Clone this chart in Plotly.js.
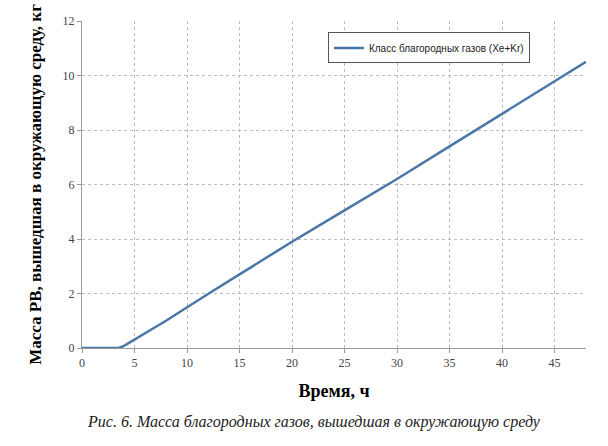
<!DOCTYPE html>
<html><head><meta charset="utf-8">
<script src="https://cdn.plot.ly/plotly-3.0.1.min.js"></script>
<style>html,body{margin:0;padding:0;background:#fff}#c{width:608px;height:446px}</style>
</head><body><div id="c"></div>
<script>
const timeH = [0, 1, 2, 3, 3.5, 4, 5, 6, 7, 8, 9, 10, 12, 15, 20, 25, 30, 35, 40, 45, 48];
const massKg = [0, 0, 0, 0, 0, 0.08, 0.3, 0.53, 0.77, 1.0, 1.25, 1.5, 1.98, 2.7, 3.9, 5.05, 6.2, 7.4, 8.6, 9.8, 10.5];
const seriesName = 'Класс благородных газов (Xe+Kr)';
const xTitle = 'Время, ч';
const yTitle = 'Масса РВ, вышедшая в окружающую среду, кг';
const caption = 'Рис. 6. Масса благородных газов, вышедшая в окружающую среду';

const serif = 'Times New Roman';
Plotly.newPlot('c', [{
  x: timeH, y: massKg, type: 'scatter', mode: 'lines', name: seriesName,
  line: {color: '#4a77a8', width: 2.5}
}], {
  width: 608, height: 446,
  margin: {l: 82, r: 22, t: 21, b: 98},
  paper_bgcolor: '#fff', plot_bgcolor: '#fff',
  showlegend: true,
  legend: {x: 0.488, y: 0.965, xanchor: 'left', yanchor: 'top', bgcolor: '#fff', bordercolor: '#555', borderwidth: 1,
    itemwidth: 30, font: {family: 'Liberation Sans', size: 10, color: '#222'}},
  xaxis: {range: [0, 48], tickvals: [0,5,10,15,20,25,30,35,40,45], showgrid: true, gridcolor: '#bbb', griddash: '3px,3px',
    showline: true, linecolor: '#999', linewidth: 1, ticks: 'outside', ticklen: 4, tickcolor: '#999',
    zeroline: false, tickfont: {family: serif, size: 12, color: '#444'},
    title: {text: '<b>' + xTitle + '</b>', font: {family: serif, size: 18, color: '#000'}, standoff: 14}},
  yaxis: {range: [0, 12], dtick: 2, showgrid: true, gridcolor: '#bbb', griddash: '3px,3px',
    showline: true, linecolor: '#999', linewidth: 1, ticks: 'outside', ticklen: 4, tickcolor: '#999',
    zeroline: false, tickfont: {family: serif, size: 12, color: '#444'},
    title: {text: '<b>' + yTitle + '</b>', font: {family: serif, size: 17, color: '#000'}, standoff: 16}},
  annotations: [{text: '<i>' + caption + '</i>', xref: 'paper', yref: 'paper', x: 0.46, y: -0.225, xanchor: 'center', yanchor: 'middle',
    showarrow: false, font: {family: serif, size: 16, color: '#222'}}]
}, {displayModeBar: false, staticPlot: true});
</script></body></html>
